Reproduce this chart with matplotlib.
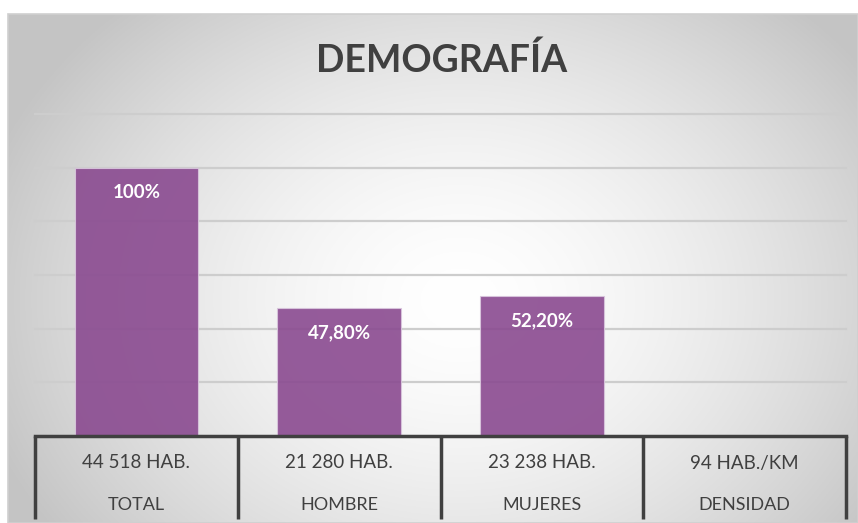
import numpy as np
import matplotlib
matplotlib.use("Agg")
import matplotlib.pyplot as plt
from matplotlib.patches import Rectangle

# ---- data ----
categories = ["TOTAL", "HOMBRE", "MUJERES", "DENSIDAD"]
sub_labels = ["44 518 HAB.", "21 280 HAB.", "23 238 HAB.", "94 HAB./KM"]
values = [100.0, 47.8, 52.2, np.nan]
value_labels = ["100%", "47,80%", "52,20%", ""]
title = "DEMOGRAFÍA"

W, H = 858, 523
fig = plt.figure(figsize=(W / 100, H / 100), dpi=100)
fig.patch.set_facecolor("white")

# ---- gradient background (chart area) ----
fx0, fy0 = 8, 14  # frame top-left in px
bg = fig.add_axes([fx0 / W, 0, (W - fx0) / W, (H - fy0) / H])
bg.set_axis_off()
ny, nx = 300, 500
yy, xx = np.mgrid[0:ny, 0:nx]
px = fx0 + xx / (nx - 1) * (W - fx0)
py = fy0 + yy / (ny - 1) * (H - fy0)
cx, cy = 460, 300
d = np.sqrt(((px - cx) / 500) ** 2 + ((py - cy) / 400) ** 2)
d = np.clip(d, 0, 1)
edge = np.array([0.77, 0.77, 0.77])
center = np.array([1.0, 1.0, 1.0])
t = d ** 1.6
img = center[None, None, :] * (1 - t[..., None]) + edge[None, None, :] * t[..., None]
bg.imshow(img, aspect="auto", extent=[0, 1, 0, 1], origin="upper")
bg.set_xlim(0, 1)
bg.set_ylim(0, 1)
bg.add_patch(Rectangle((0, 0), 1, 1, fill=False, edgecolor="#cfcfcf", lw=1.2,
                       transform=bg.transAxes, clip_on=False))

# ---- main axes ----
left_px, right_px = 35, 846
top_px, base_px = 114, 436
ax = fig.add_axes([left_px / W, (H - base_px) / H, (right_px - left_px) / W,
                   (base_px - top_px) / H])
ax.patch.set_alpha(0)
ax.set_xlim(-0.5, len(categories) - 0.5)
ax.set_ylim(0, 120)
for s in ax.spines.values():
    s.set_visible(False)
ax.set_xticks([])
ax.set_yticks([])

for g in [20, 40, 60, 80, 100, 120]:
    ax.axhline(g, color="#cdcdcd", lw=1.6, zorder=1, clip_on=False)

x = np.arange(len(categories))
bars = ax.bar(x, values, width=0.61, color="#8a4a90", alpha=0.9,
              edgecolor="#d9c6dd", linewidth=0.8, zorder=2)

for xi, v, lab in zip(x, values, value_labels):
    if lab and not np.isnan(v):
        ax.annotate(lab, (xi, v), xytext=(0, -25), textcoords="offset pixels",
                    ha="center", va="center", color="white", fontsize=13.5,
                    fontweight="bold", family="Lato", zorder=3)

# axis line
ax.axhline(0, color="#404040", lw=2.5, zorder=4, clip_on=False)

# category table
axh = base_px - top_px
y_bottom = -(519 - base_px) / axh
for b in np.arange(-0.5, len(categories), 1.0):
    ax.plot([b, b], [0, y_bottom], transform=ax.get_xaxis_transform(),
            color="#404040", lw=2.5, clip_on=False, zorder=4,
            solid_capstyle="butt")

for xi, sl, cat in zip(x, sub_labels, categories):
    ax.text(xi, -(463 - base_px) / axh, sl, transform=ax.get_xaxis_transform(),
            ha="center", va="center", fontsize=13.5, color="#404040",
            family="Lato")
    ax.text(xi, -(505 - base_px) / axh, cat, transform=ax.get_xaxis_transform(),
            ha="center", va="center", fontsize=13, color="#404040",
            family="Lato")

fig.text(442 / W, 1 - 60 / H, title, ha="center", va="center",
         fontsize=27, fontweight="bold", color="#404040", family="Lato")

fig.savefig("out.png", dpi=100)
